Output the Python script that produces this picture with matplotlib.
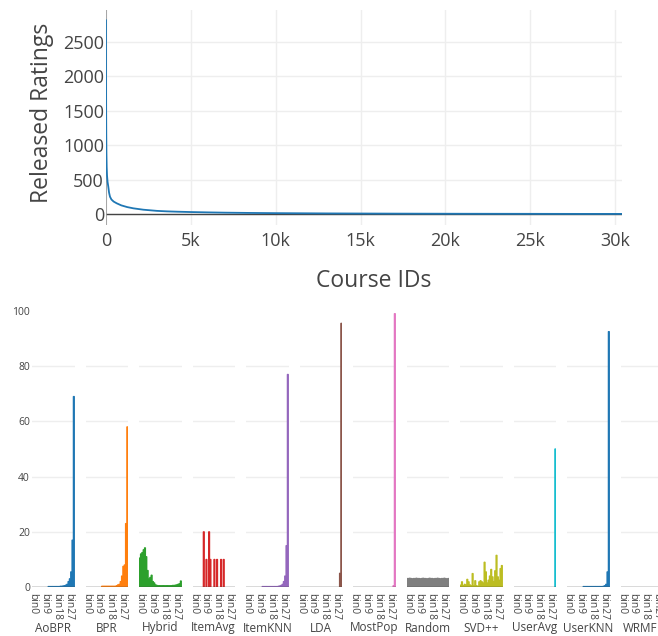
import matplotlib
matplotlib.use("Agg")
import matplotlib.pyplot as plt

plt.rcParams['font.family'] = ['Open Sans', 'DejaVu Sans']
TXT = '#444444'

# ---------------- top chart data (sampled points of the sorted curve) ----------------
course_ids = [0, 3, 8, 15, 25, 40, 60, 90, 136, 180, 236, 320, 450, 630, 900, 1250,
              1610, 2200, 3000, 3580, 4200, 5000, 6000, 7000, 8500, 10000, 13000, 17000,
              21000, 25000, 28000, 30400]
released_ratings = [2810, 2000, 1500, 1150, 880, 684, 560, 470, 395, 310, 250, 210, 180, 155, 125, 100,
                    82, 62, 45, 38, 33, 28, 23, 19, 15, 12, 8, 5, 3, 2, 1, 1]

top_xticks = [0, 5000, 10000, 15000, 20000, 25000, 30000]
top_xticklabels = ['0', '5k', '10k', '15k', '20k', '25k', '30k']
top_yticks = [0, 500, 1000, 1500, 2000, 2500]

# ---------------- bottom chart data ----------------
bins = ['bin%d' % i for i in range(32)]
bin_ticks = ['bin0', 'bin9', 'bin18', 'bin27']
methods = ['AoBPR', 'BPR', 'Hybrid', 'ItemAvg', 'ItemKNN', 'LDA',
           'MostPop', 'Random', 'SVD++', 'UserAvg', 'UserKNN', 'WRMF']
colors = ['#1f77b4', '#ff7f0e', '#2ca02c', '#d62728', '#9467bd', '#8c564b',
          '#e377c2', '#7f7f7f', '#bcbd22', '#17becf', '#1f77b4', '#ff7f0e']

aobpr = [0, 0, 0, 0, 0, 0, 0, 0, 0, 0, 0, 0, 0.2, 0.2, 0.2, 0.2, 0.2, 0.2, 0.2, 0.2, 0.2, 0.3,
         0.3, 0.4, 0.5, 0.7, 1.0, 2.0, 3.0, 5.5, 17, 69]
bpr = [0, 0, 0, 0, 0, 0, 0, 0, 0, 0, 0, 0, 0.3, 0.3, 0.3, 0.3, 0.3, 0.3, 0.3, 0.3, 0.3, 0.3,
       0.3, 0.5, 0.8, 1.0, 2.0, 4.0, 7.5, 8.0, 23, 58]
hybrid = [10.5, 12, 12.5, 13.5, 14.2, 11, 6, 3, 3.5, 4.3, 2, 1.5, 0.8, 0.6, 0.5, 0.5, 0.5, 0.5,
          0.5, 0.5, 0.5, 0.5, 0.5, 0.5, 0.5, 0.6, 0.6, 0.7, 0.8, 1.0, 1.2, 2.2]
itemavg = [0, 0, 0, 0, 0, 0, 0, 0, 20, 0, 10, 0, 20, 10, 0, 0, 10, 0, 10, 0, 0, 10,
           0, 10, 0, 0, 0, 0, 0, 0, 0, 0]
itemknn = [0, 0, 0, 0, 0, 0, 0, 0, 0, 0, 0, 0, 0.2, 0.2, 0.2, 0.2, 0.2, 0.2, 0.2, 0.2, 0.2, 0.2,
           0.2, 0.2, 0.3, 0.4, 0.6, 1.0, 2.0, 4.0, 15, 77]
lda = [0] * 30 + [5, 95.5]
mostpop = [0] * 30 + [0.5, 99]
random_ = [3.1, 3.1, 3.2, 3.1, 3.0, 3.1, 3.1, 3.2, 3.1, 3.1, 3.0, 3.1, 3.2, 3.1, 3.1, 3.0,
           3.1, 3.2, 3.1, 3.1, 3.0, 3.1, 3.1, 3.2, 3.1, 3.0, 3.1, 3.1, 3.2, 3.1, 3.0, 3.1]
svdpp = [0.7, 1.9, 0.5, 1.0, 0.8, 2.8, 1.9, 0.8, 0.5, 4.9, 0.5, 2.3, 0.5, 0.3, 1.9, 2.3,
         1.9, 1.5, 9.0, 5.5, 1.5, 2.5, 4.0, 6.4, 3.7, 2.0, 5.9, 11.5, 3.7, 2.5, 6.7, 7.8]
useravg = [0] * 31 + [50]
userknn = [0, 0, 0, 0, 0, 0, 0, 0, 0, 0, 0, 0, 0.2, 0.2, 0.2, 0.2, 0.2, 0.2, 0.2, 0.2, 0.2, 0.2,
           0.2, 0.2, 0.2, 0.2, 0.2, 0.3, 0.5, 1.0, 5.5, 92.5]
wrmf = [0] * 32
series = [aobpr, bpr, hybrid, itemavg, itemknn, lda, mostpop, random_, svdpp, useravg, userknn, wrmf]
bottom_yticks = [0, 20, 40, 60, 80, 100]

W, H = 658, 636
fig = plt.figure(figsize=(W / 100, H / 100), dpi=100)


def frac_box(x0, y0, x1, y1):
    return [x0 / W, 1 - y1 / H, (x1 - x0) / W, (y1 - y0) / H]


# ---------------- top chart ----------------
ax = fig.add_axes(frac_box(106, 10, 622, 225))
ax.plot(course_ids, released_ratings, color='#1f77b4', lw=1.3, zorder=3)
ax.set_xlim(0, 30400)
ax.set_ylim(-160, 2960)
ax.set_xticks(top_xticks)
ax.set_xticklabels(top_xticklabels)
ax.set_yticks(top_yticks)
ax.grid(True, color='#eeeeee', lw=1)
ax.set_axisbelow(True)
ax.axhline(0, color=TXT, lw=1, zorder=2)
ax.axvline(0, color='#999999', lw=1.2, zorder=2)
for s in ax.spines.values():
    s.set_visible(False)
ax.tick_params(length=0, labelsize=13, colors=TXT)
ax.tick_params(axis='x', pad=5)
ax.tick_params(axis='y', pad=1.5)
fig.text(42 / W, 1 - 113 / H, 'Released Ratings', rotation=90, ha='center', va='center',
         fontsize=16.5, color=TXT)
fig.text(374 / W, 1 - 281 / H, 'Course IDs', ha='center', va='center', fontsize=16.5, color=TXT)

# ---------------- bottom small multiples ----------------
y0_px, y1_px = 310, 587
for i, (name, vals, col) in enumerate(zip(methods, series, colors)):
    left = 32 + 53.5 * i
    a = fig.add_axes(frac_box(left, y0_px, left + 42.5, y1_px))
    xs = list(range(len(bins)))
    bars = a.bar(xs, vals, width=0.8, color=col, edgecolor=col, linewidth=0.8, zorder=3)
    for b, v in zip(bars, vals):
        b.set_snap(False)
        if v == 0:
            b.set_linewidth(0)
    a.set_xlim(-0.5, len(bins) - 0.5)
    a.set_ylim(0, 100.3)
    for g in bottom_yticks[1:-1]:
        a.axhline(g, color='#eeeeee', lw=1, zorder=1)
    a.axhline(0, color=TXT, lw=1, zorder=4)
    for s in a.spines.values():
        s.set_visible(False)
    a.set_xticks([bins.index(b) for b in bin_ticks])
    a.set_xticklabels(bin_ticks, rotation=-90, fontsize=7.4, color=TXT)
    a.tick_params(axis='x', length=0, pad=4)
    if i == 0:
        a.set_yticks(bottom_yticks)
        a.tick_params(axis='y', length=0, labelsize=7.5, colors=TXT, pad=1.5)
    else:
        a.set_yticks([])
    cx = min(left + 21.25, 640)
    fig.text(cx / W, 1 - 628 / H, name, ha='center', va='center',
             fontsize=8.5, color=TXT)

fig.savefig('out.png', dpi=100)
